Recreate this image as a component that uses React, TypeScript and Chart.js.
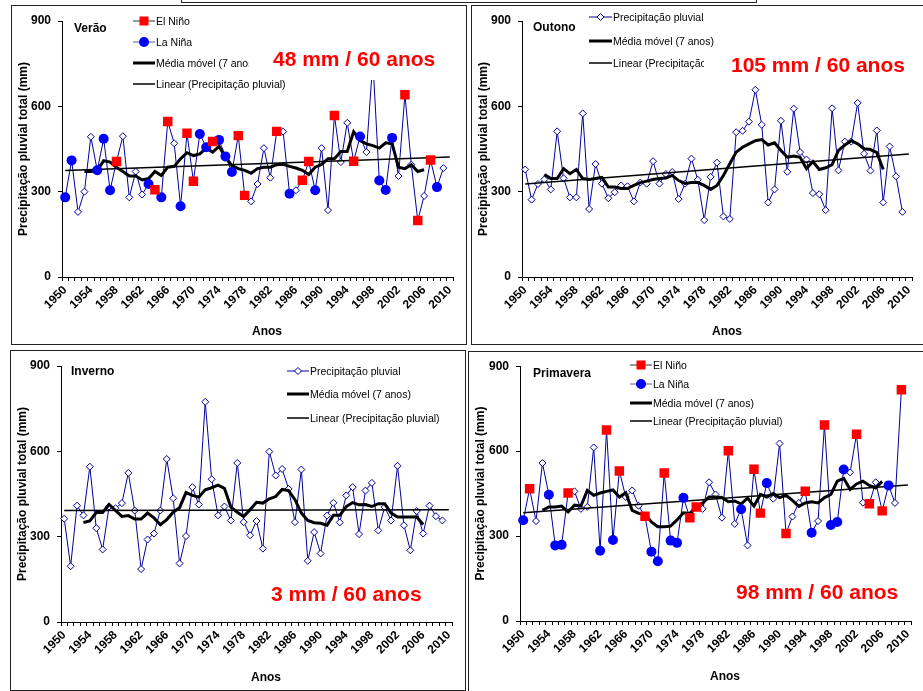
import React, { useEffect, useRef } from 'react';
import { Chart, registerables } from 'chart.js';

Chart.register(...registerables);

const years = [
  1950, 1951, 1952, 1953, 1954, 1955, 1956, 1957, 1958, 1959,
  1960, 1961, 1962, 1963, 1964, 1965, 1966, 1967, 1968, 1969,
  1970, 1971, 1972, 1973, 1974, 1975, 1976, 1977, 1978, 1979,
  1980, 1981, 1982, 1983, 1984, 1985, 1986, 1987, 1988, 1989,
  1990, 1991, 1992, 1993, 1994, 1995, 1996, 1997, 1998, 1999,
  2000, 2001, 2002, 2003, 2004, 2005, 2006, 2007, 2008, 2009,
  2010,
];

const MA_FIRST_YEAR = 1953;

// Verão
const veraoRain = [
  280, 410, 229, 300, 493, 375, 486, 305, 406, 495,
  280, 371, 290, 327, 307, 280, 547, 470, 249, 505,
  337, 503, 456, 476, 482, 424, 369, 497, 287, 266,
  327, 453, 349, 512, 511, 293, 305, 340, 406, 305,
  453, 235, 568, 404, 542, 407, 494, 439, 760, 339,
  306, 489, 355, 641, 395, 199, 285, 411, 316, 383,
];
const veraoMovingAvg = [
  371, 371, 374, 409, 404, 386, 371, 355, 355, 341,
  346, 371, 357, 386, 389, 416, 437, 427, 433, 453,
  439, 459, 421, 392, 381, 375, 365, 381, 386, 386,
  395, 396, 389, 383, 375, 360, 386, 396, 416, 416,
  441, 441, 511, 480, 468, 462, 453, 472, 468, 386,
  381, 395, 371, 377,
];
const veraoTrend = [374, 422];
const veraoElNino = [1958, 1964, 1966, 1969, 1970, 1973, 1977, 1978, 1983, 1987, 1988, 1992, 1995, 2003, 2005, 2007];
const veraoLaNina = [1950, 1951, 1955, 1956, 1957, 1963, 1965, 1968, 1971, 1972, 1974, 1975, 1976, 1985, 1989, 1996, 1999, 2000, 2001, 2008];

// Outono
const outonoRain = [
  378, 272, 327, 343, 308, 512, 347, 280, 280, 575,
  239, 397, 328, 277, 298, 322, 319, 266, 332, 328,
  407, 328, 362, 369, 274, 328, 416, 342, 200, 352,
  402, 213, 204, 509, 514, 546, 658, 535, 262, 308,
  549, 370, 592, 439, 413, 295, 291, 235, 593, 375,
  476, 476, 612, 433, 374, 515, 262, 459, 354, 229,
];
const outonoMovingAvg = [
  360, 346, 346, 381, 363, 378, 346, 343, 346, 350,
  316, 316, 311, 311, 322, 332, 337, 343, 346, 348,
  357, 339, 329, 332, 332, 322, 308, 322, 357, 398,
  439, 456, 468, 479, 483, 464, 472, 445, 421, 425,
  421, 381, 406, 378, 384, 395, 445, 464, 479, 468,
  451, 448, 437, 378,
];
const outonoTrend = [327, 432];

// Inverno
const invernoRain = [
  363, 196, 409, 375, 546, 330, 255, 406, 400, 418,
  524, 392, 186, 290, 311, 392, 573, 435, 206, 302,
  474, 413, 774, 502, 375, 406, 357, 559, 351, 305,
  355, 258, 599, 515, 538, 468, 351, 536, 215, 316,
  241, 374, 419, 350, 445, 474, 309, 462, 489, 322,
  404, 357, 549, 340, 252, 390, 311, 409, 372, 357,
];
const invernoMovingAvg = [
  350, 355, 385, 385, 413, 392, 371, 374, 362, 362,
  383, 366, 342, 360, 386, 402, 455, 445, 439, 465,
  472, 481, 470, 404, 386, 371, 395, 421, 418, 433,
  441, 466, 462, 430, 383, 357, 349, 347, 340, 375,
  375, 406, 420, 412, 413, 406, 416, 416, 383, 369,
  369, 369, 369, 343,
];
const invernoTrend = [392, 395];

// Primavera
const primaveraRain = [
  356, 467, 353, 558, 446, 267, 269, 452, 458, 396,
  403, 613, 248, 675, 286, 530, 438, 461, 407, 370,
  245, 211, 523, 284, 276, 435, 365, 403, 396, 490,
  447, 365, 601, 343, 395, 267, 536, 381, 487, 432,
  627, 309, 369, 417, 458, 312, 353, 692, 339, 350,
  535, 525, 660, 418, 414, 490, 389, 479, 417, 817,
];
const primaveraMovingAvg = [
  391, 403, 403, 406, 385, 409, 406, 461, 444, 452,
  458, 463, 438, 453, 391, 380, 377, 350, 333, 333,
  335, 357, 382, 380, 403, 417, 438, 438, 436, 421,
  424, 413, 434, 406, 447, 438, 450, 436, 444, 426,
  405, 417, 421, 417, 436, 447, 494, 504, 465, 484,
  494, 479, 470, 493,
];
const primaveraTrend = [382, 480];
const primaveraElNino = [1951, 1957, 1963, 1965, 1969, 1972, 1976, 1977, 1982, 1986, 1987, 1991, 1994, 1997, 2002, 2004, 2006, 2009];
const primaveraLaNina = [1950, 1954, 1955, 1956, 1962, 1964, 1970, 1971, 1973, 1974, 1975, 1984, 1988, 1995, 1998, 1999, 2000, 2007];

const FONT = '"Liberation Sans", Arial, Helvetica, sans-serif';
const RAIN_COLOR = '#000099';

type Box = { left: number; top: number; width: number; height: number };
type Plot = { left: number; top: number; right: number; bottom: number };

interface SeasonProps {
  canvas: Box;
  plot: Plot;
  rain: number[];
  movingAvg: number[];
  trend: number[];
  elNino?: number[];
  laNina?: number[];
}

function SeasonChart({ canvas, plot, rain, movingAvg, trend, elNino, laNina }: SeasonProps) {
  const ref = useRef<HTMLCanvasElement | null>(null);
  useEffect(() => {
    if (!ref.current) return;
    const maStart = years.indexOf(MA_FIRST_YEAR);
    const rainData = years.map((_, i) => (i < rain.length ? rain[i] : null));
    const maData = years.map((_, i) =>
      i >= maStart && i - maStart < movingAvg.length ? movingAvg[i - maStart] : null
    );
    const trendData = years.map((_, i) =>
      i === 0 ? trend[0] : i === years.length - 1 ? trend[1] : null
    );
    const pick = (list: number[]) =>
      years.map((y, i) => (list.includes(y) && i < rain.length ? rain[i] : null));

    const datasets: any[] = [];
    if (elNino) {
      datasets.push({
        label: 'El Niño',
        data: pick(elNino),
        showLine: false,
        pointStyle: 'rect',
        pointRadius: 6.7,
        pointBackgroundColor: '#ff0000',
        pointBorderColor: '#ff0000',
        pointBorderWidth: 0,
        borderColor: '#ff0000',
        backgroundColor: '#ff0000',
      });
    }
    if (laNina) {
      datasets.push({
        label: 'La Niña',
        data: pick(laNina),
        showLine: false,
        pointStyle: 'circle',
        pointRadius: 5,
        pointBackgroundColor: '#0000ff',
        pointBorderColor: '#0000ff',
        pointBorderWidth: 0,
        borderColor: '#0000ff',
        backgroundColor: '#0000ff',
      });
    }
    datasets.push({
      label: 'Média móvel (7 anos)',
      data: maData,
      borderColor: '#000000',
      borderWidth: 3,
      pointRadius: 0,
      tension: 0,
    });
    datasets.push({
      label: 'Linear (Precipitação pluvial)',
      data: trendData,
      borderColor: '#000000',
      borderWidth: 1.5,
      pointRadius: 0,
      spanGaps: true,
    });
    datasets.push({
      label: 'Precipitação pluvial',
      data: rainData,
      borderColor: RAIN_COLOR,
      borderWidth: 1,
      pointStyle: 'rectRot',
      pointRadius: 3.5,
      pointBackgroundColor: '#ffffff',
      pointBorderColor: RAIN_COLOR,
      pointBorderWidth: 1,
      tension: 0,
    });

    const tickFont = { family: FONT, size: 12, weight: 'bold' as const };
    const chart = new Chart(ref.current, {
      type: 'line',
      data: { labels: years.map(String), datasets },
      options: {
        responsive: false,
        animation: false,
        devicePixelRatio: 1,
        layout: {
          padding: {
            left: 0,
            top: plot.top - canvas.top,
            right: canvas.left + canvas.width - plot.right,
            bottom: 0,
          },
        },
        plugins: { legend: { display: false }, tooltip: { enabled: false } },
        scales: {
          x: {
            type: 'category',
            offset: true,
            grid: { offset: true, drawOnChartArea: false, drawTicks: true, tickLength: 4, color: '#000' },
            border: { display: true, color: '#000', width: 1 },
            ticks: {
              autoSkip: false,
              minRotation: 45,
              maxRotation: 45,
              padding: 2,
              color: '#000',
              font: tickFont,
              callback: (_v: any, i: number) => (i % 4 === 0 ? String(years[i]) : ''),
            },
            afterFit: (s: any) => {
              s.height = canvas.top + canvas.height - plot.bottom;
            },
          },
          y: {
            min: 0,
            max: 900,
            ticks: { stepSize: 300, padding: 7, color: '#000', font: tickFont },
            grid: { drawOnChartArea: false, drawTicks: true, tickLength: 4, color: '#000' },
            border: { display: true, color: '#000', width: 1 },
            title: {
              display: true,
              text: 'Precipitação pluvial total (mm)',
              color: '#000',
              font: { family: FONT, size: 12, weight: 'bold' },
              padding: { top: 4, bottom: 0 },
            },
            afterFit: (s: any) => {
              s.width = plot.left - canvas.left;
            },
          },
        },
      } as any,
    });
    return () => chart.destroy();
  }, []);
  return (
    <canvas
      ref={ref}
      width={canvas.width}
      height={canvas.height}
      style={{ position: 'absolute', left: canvas.left, top: canvas.top, width: canvas.width, height: canvas.height }}
    />
  );
}

type Kind = 'elnino' | 'lanina' | 'rain' | 'ma' | 'trend';

function LegendRow({ x1, x2, cy, kind, text, clip }: { x1: number; x2: number; cy: number; kind: Kind; text: string; clip?: number }) {
  const w = x2 - x1;
  const m = w / 2;
  let sample: React.ReactNode = null;
  if (kind === 'elnino') {
    sample = (
      <>
        <line x1={0} y1={7} x2={w} y2={7} stroke="#333" strokeWidth={1} />
        <rect x={m - 4.5} y={2.5} width={9} height={9} fill="#ff0000" />
      </>
    );
  } else if (kind === 'lanina') {
    sample = (
      <>
        <line x1={0} y1={7} x2={w} y2={7} stroke="#55609a" strokeWidth={1} />
        <circle cx={m} cy={7} r={5} fill="#0000ff" />
      </>
    );
  } else if (kind === 'rain') {
    sample = (
      <>
        <line x1={0} y1={7} x2={w} y2={7} stroke={RAIN_COLOR} strokeWidth={1} />
        <polygon points={`${m - 3.5},7 ${m},3.5 ${m + 3.5},7 ${m},10.5`} fill="#fff" stroke={RAIN_COLOR} strokeWidth={1} />
      </>
    );
  } else if (kind === 'ma') {
    sample = <line x1={0} y1={7} x2={w} y2={7} stroke="#000" strokeWidth={3} />;
  } else {
    sample = <line x1={0} y1={7} x2={w} y2={7} stroke="#000" strokeWidth={1.5} />;
  }
  return (
    <>
      <svg style={{ position: 'absolute', left: x1, top: cy - 7 }} width={w} height={14}>
        {sample}
      </svg>
      <div
        style={{
          position: 'absolute',
          left: x2 + 1,
          top: cy - 7,
          height: 14,
          lineHeight: '14px',
          fontSize: 10.5,
          fontFamily: FONT,
          whiteSpace: 'nowrap',
          overflow: clip ? 'hidden' : 'visible',
          width: clip,
          color: '#000',
        }}
      >
        {text}
      </div>
    </>
  );
}

function Label({ text, left, cy, size, color, bold, center }: { text: string; left: number; cy: number; size: number; color?: string; bold?: boolean; center?: boolean }) {
  const lh = Math.round(size * 1.2);
  return (
    <div
      style={{
        position: 'absolute',
        left: center ? left - 100 : left,
        width: center ? 200 : undefined,
        textAlign: center ? 'center' : 'left',
        top: cy - lh / 2,
        lineHeight: `${lh}px`,
        fontSize: size,
        fontFamily: FONT,
        fontWeight: bold ? 'bold' : 'normal',
        color: color || '#000',
        whiteSpace: 'nowrap',
      }}
    >
      {text}
    </div>
  );
}

const frame = (left: number, top: number, width: number, height: number) => (
  <div
    style={{
      position: 'absolute',
      left,
      top,
      width,
      height,
      border: '1px solid #222',
      boxSizing: 'border-box',
    }}
  />
);

export default function App() {
  return (
    <div style={{ position: 'absolute', left: 0, top: 0, width: 923, height: 691, overflow: 'hidden', background: '#fff' }}>
      {frame(181, -10, 576, 13)}
      {frame(11, 5, 456, 340)}
      {frame(471, 5, 460, 340)}
      {frame(10, 350, 456, 341)}
      {frame(468, 351, 460, 341)}

      <SeasonChart
        canvas={{ left: 12, top: 6, width: 454, height: 338 }}
        plot={{ left: 62, top: 21, right: 453, bottom: 277 }}
        rain={veraoRain}
        movingAvg={veraoMovingAvg}
        trend={veraoTrend}
        elNino={veraoElNino}
        laNina={veraoLaNina}
      />
      <SeasonChart
        canvas={{ left: 472, top: 6, width: 450, height: 338 }}
        plot={{ left: 522, top: 21, right: 912, bottom: 277 }}
        rain={outonoRain}
        movingAvg={outonoMovingAvg}
        trend={outonoTrend}
      />
      <SeasonChart
        canvas={{ left: 11, top: 351, width: 454, height: 338 }}
        plot={{ left: 61, top: 366, right: 452, bottom: 622 }}
        rain={invernoRain}
        movingAvg={invernoMovingAvg}
        trend={invernoTrend}
      />
      <SeasonChart
        canvas={{ left: 469, top: 352, width: 453, height: 337 }}
        plot={{ left: 520, top: 366, right: 911, bottom: 621 }}
        rain={primaveraRain}
        movingAvg={primaveraMovingAvg}
        trend={primaveraTrend}
        elNino={primaveraElNino}
        laNina={primaveraLaNina}
      />

      {/* text box of the summer panel (white fill) */}
      <div style={{ position: 'absolute', left: 300, top: 40, width: 145, height: 40, background: '#fff' }} />

      {/* season titles */}
      <Label text="Verão" left={74} cy={28} size={12} bold />
      <Label text="Outono" left={533} cy={27} size={12} bold />
      <Label text="Inverno" left={71} cy={371} size={12} bold />
      <Label text="Primavera" left={533} cy={373} size={12} bold />

      {/* trend annotations */}
      <Label text="48 mm / 60 anos" left={273} cy={58} size={21} bold color="#ff0000" />
      <Label text="105 mm / 60 anos" left={731} cy={64} size={21} bold color="#ff0000" />
      <Label text="3 mm / 60 anos" left={271} cy={593} size={21} bold color="#ff0000" />
      <Label text="98 mm / 60 anos" left={736} cy={591} size={21} bold color="#ff0000" />

      {/* x axis titles */}
      <Label text="Anos" left={267} cy={331} size={12} bold center />
      <Label text="Anos" left={727} cy={331} size={12} bold center />
      <Label text="Anos" left={266} cy={677} size={12} bold center />
      <Label text="Anos" left={725} cy={676} size={12} bold center />

      {/* legends */}
      <LegendRow x1={133} x2={155} cy={21} kind="elnino" text="El Niño" />
      <LegendRow x1={133} x2={155} cy={42} kind="lanina" text="La Niña" />
      <LegendRow x1={133} x2={155} cy={63} kind="ma" text="Média móvel (7 anos)" clip={93} />
      <LegendRow x1={133} x2={155} cy={84} kind="trend" text="Linear (Precipitação pluvial)" />

      <LegendRow x1={589} x2={612} cy={17} kind="rain" text="Precipitação pluvial" />
      <LegendRow x1={589} x2={612} cy={41} kind="ma" text="Média móvel (7 anos)" />
      <LegendRow x1={589} x2={612} cy={63} kind="trend" text="Linear (Precipitação pluvial)" clip={91} />

      <LegendRow x1={287} x2={309} cy={371} kind="rain" text="Precipitação pluvial" />
      <LegendRow x1={287} x2={309} cy={394} kind="ma" text="Média móvel (7 anos)" />
      <LegendRow x1={287} x2={309} cy={418} kind="trend" text="Linear (Precipitação pluvial)" />

      <LegendRow x1={630} x2={652} cy={365} kind="elnino" text="El Niño" />
      <LegendRow x1={630} x2={652} cy={384} kind="lanina" text="La Niña" />
      <LegendRow x1={630} x2={652} cy={403} kind="ma" text="Média móvel (7 anos)" />
      <LegendRow x1={630} x2={652} cy={421} kind="trend" text="Linear (Precipitação pluvial)" />
    </div>
  );
}
